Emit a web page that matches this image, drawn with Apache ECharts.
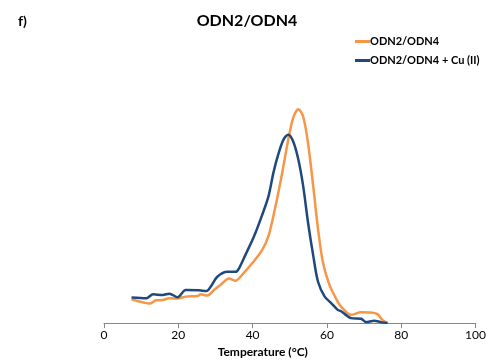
<!DOCTYPE html>
<html><head><meta charset="utf-8">
<script src="https://cdn.jsdelivr.net/npm/echarts@6/dist/echarts.min.js"></script>
<style>html,body{margin:0;padding:0;background:#fff}#c{width:489px;height:363px}</style>
</head><body><div id="c"></div>
<script>
var xTicks = [0, 20, 40, 60, 80, 100];
var seriesNames = ['ODN2/ODN4', 'ODN2/ODN4 + Cu (II)'];
var odn = [[7.4,24],[9.6,21.7],[12.3,19.7],[14,23],[15.8,23.3],[17.6,25],[19.8,24.7],[22,26.7],[25.2,27.3],[26,29],[27.8,27.7],[29.6,33.3],[31.8,40],[33.6,45],[35.4,42.7],[37.1,48.3],[39.8,60],[42.5,73.3],[44.3,88.3],[46,115],[47.8,148.3],[49.6,185],[50.9,206.7],[52.3,215.7],[53.6,208.3],[54.9,181.7],[56.3,138.3],[57.6,95],[58.9,61.7],[60.7,38.3],[62.9,21.7],[63.8,16.7],[66.5,8.3],[69.2,11],[71.8,10.7],[73.6,9],[74.9,3.3],[76.3,0]];
var odnCu = [[7.4,25.7],[11.4,25],[13.2,29],[15.8,28.3],[17.6,29.7],[19.8,26],[22,33.3],[25.6,33],[27.6,32.3],[28.7,36.7],[30.5,46.7],[33.2,51.7],[35.4,51.7],[36.3,55],[38,68.3],[40.3,86.7],[42.5,108.3],[44.3,128.3],[45.6,151.7],[46.9,170],[48.3,185],[49.6,190],[50.9,183.3],[52.3,165],[53.6,138.3],[54.9,101.7],[56.3,68.3],[57.6,41.7],[59.4,26.7],[61.2,20],[62.9,13.3],[63.8,12],[66.5,5],[69.2,4.3],[70.5,1],[72.7,2.3],[74.5,1],[76.3,0]];
var font = 'Lato, "Liberation Sans", sans-serif';
var chart = echarts.init(document.getElementById('c'));
chart.setOption({
  animation: false,
  textStyle: {fontFamily: font},
  title: [
    {text: 'ODN2/ODN4', left: 242, top: 8, textAlign: 'center', textStyle: {fontFamily: font, fontSize: 16, fontWeight: 'bold', color: '#000'}},
    {text: 'f)', left: 13, top: 9, textStyle: {fontFamily: font, fontSize: 14, fontWeight: 'bold', color: '#000'}}
  ],
  legend: {
    orient: 'vertical', left: 350, top: 31, itemGap: 8,
    itemWidth: 15, itemHeight: 3, icon: 'rect',
    textStyle: {fontFamily: font, fontSize: 11, fontWeight: 'bold', color: '#000', padding: [0,0,0,-5]},
    data: seriesNames
  },
  grid: {left: 104, right: 10, top: 90, bottom: 38},
  xAxis: {
    type: 'value', min: 0, max: 100, interval: 20,
    name: 'Temperature (°C)', nameLocation: 'middle', nameGap: 21,
    nameTextStyle: {fontFamily: font, fontSize: 12, fontWeight: 'bold', color: '#000', padding: [0,54,0,0]},
    axisLine: {lineStyle: {color: '#868686', width: 1}},
    axisTick: {show: true, length: 5, lineStyle: {color: '#868686'}},
    axisLabel: {fontFamily: font, fontSize: 12, color: '#000', margin: 6},
    splitLine: {show: false}
  },
  yAxis: {type: 'value', min: 0, max: 235, show: false, splitLine: {show: false}},
  series: [
    {name: seriesNames[0], type: 'line', data: odn, showSymbol: false, smooth: 0.3, lineStyle: {width: 2.5, color: '#F79646'}, itemStyle: {color: '#F79646'}},
    {name: seriesNames[1], type: 'line', data: odnCu, showSymbol: false, smooth: 0.3, lineStyle: {width: 2.5, color: '#1F497D'}, itemStyle: {color: '#1F497D'}}
  ]
});
</script></body></html>
